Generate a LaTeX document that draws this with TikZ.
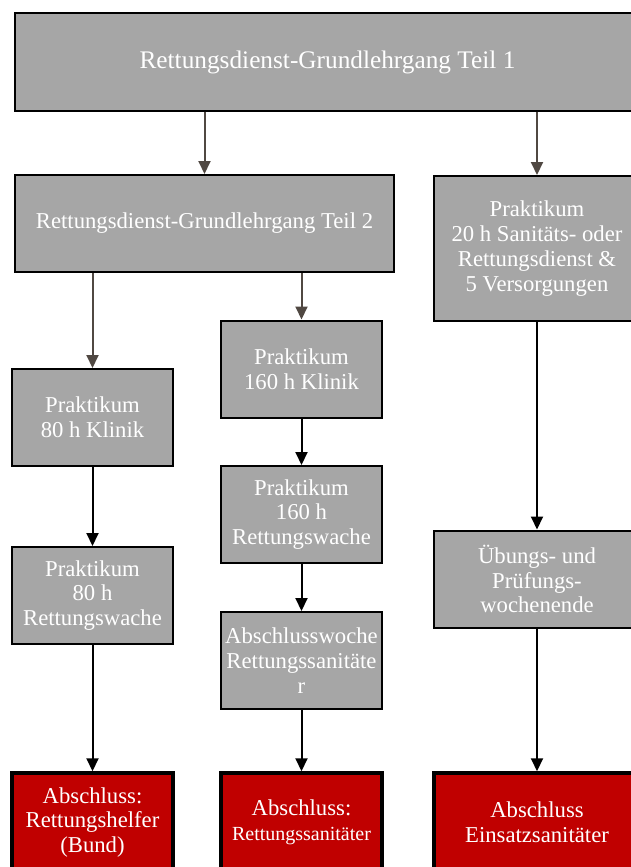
\documentclass[tikz,border=0pt]{standalone}
\usepackage{fontspec}
\setmainfont{Liberation Serif}
\usetikzlibrary{arrows.meta}
\definecolor{boxgray}{RGB}{166,166,166}
\definecolor{boxred}{RGB}{192,0,0}
\definecolor{arrowgray}{RGB}{80,72,66}
\begin{document}
\begin{tikzpicture}[x=1pt,y=-1pt,
  box/.style={draw=black,line width=2pt,fill=boxgray,text=white,align=center,inner sep=0pt,
    minimum width=161pt,minimum height=97pt,font=\fontsize{22.7}{24.8}\selectfont},
  widebox/.style={box,minimum width=206pt},
  endbox/.style={box,fill=boxred,line width=3.5pt,minimum height=99pt},
  arr/.style={line width=2pt,-{Triangle[length=13pt,width=12pt]}},
  toparr/.style={arr,draw=arrowgray,fill=arrowgray}]
\useasboundingbox (0,0) rectangle (631,867);
\clip (0,0) rectangle (631,867);
%\draw[step=50,gray,very thin] (0,0) grid (631,867); %background grid
\node[box,minimum width=625pt,font=\fontsize{25.3}{27}\selectfont] (teil1) at (327.5,62) {Rettungsdienst-Grundlehrgang Teil 1};
\node[box,minimum width=379pt] (teil2) at (204.5,223.5) {Rettungsdienst-Grundlehrgang Teil 2};
\node[widebox,minimum height=145pt] (prak20) at (537,248.5) {Praktikum\\20 h Sanitäts- oder\\Rettungsdienst \&\\5 Versorgungen};
\node[box] (klinik80) at (92.5,417.5) {Praktikum\\80 h Klinik};
\node[box] (wache80) at (92.5,595.5) {Praktikum\\80 h\\Rettungswache};
\node[box] (klinik160) at (301.5,369) {Praktikum\\160 h Klinik};
\node[box] (wache160) at (301.5,514.5) {Praktikum\\160 h\\Rettungswache};
\node[box] (woche) at (301.5,660.5) {Abschlusswoche\\Rettungssanitäte\\r};
\node[widebox] (uebung) at (537,579) {Übungs- und\\Prüfungs-\\wochenende};
\node[endbox] (helfer) at (92.5,822.5) {Abschluss:\\Rettungshelfer\\(Bund)};
\node[endbox] (sani) at (301.5,822.5) {Abschluss:\\{\fontsize{20}{24.8}\selectfont Rettungssanitäter}};
\node[endbox,minimum width=206pt] (einsatz) at (537,822.5) {Abschluss\\Einsatzsanitäter};
\draw[toparr] (teil2.north |- teil1.south) -- (teil2.north);
\draw[toparr] (prak20.north |- teil1.south) -- (prak20.north);
\draw[toparr] (klinik80.north |- teil2.south) -- (klinik80.north);
\draw[toparr] (klinik160.north |- teil2.south) -- (klinik160.north);
\draw[arr] (klinik80) -- (wache80);
\draw[arr] (wache80) -- (helfer);
\draw[arr] (klinik160) -- (wache160);
\draw[arr] (wache160) -- (woche);
\draw[arr] (woche) -- (sani);
\draw[arr] (prak20) -- (uebung);
\draw[arr] (uebung) -- (einsatz);
\end{tikzpicture}
\end{document}
